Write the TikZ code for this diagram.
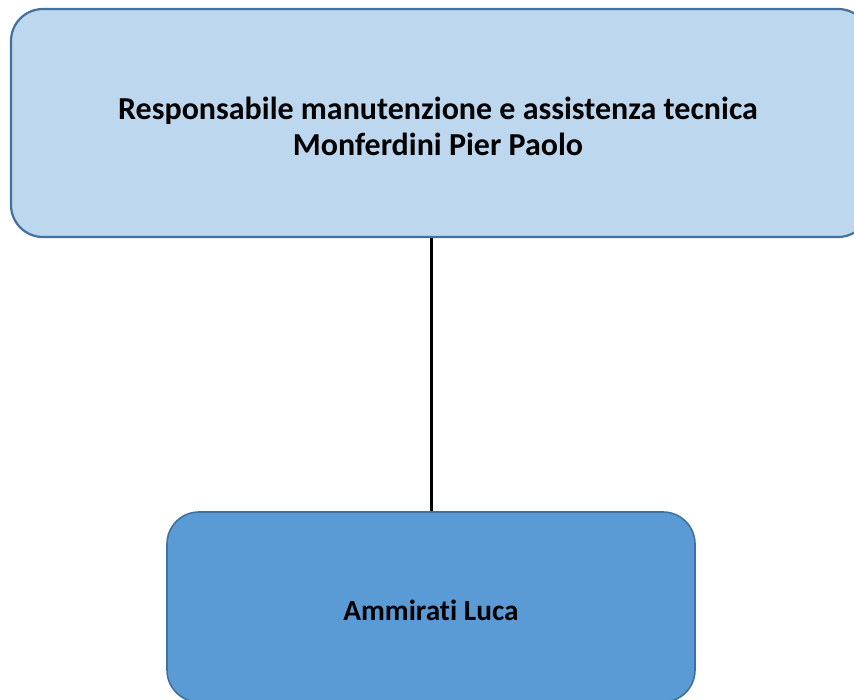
\documentclass[tikz,border=0pt]{standalone}
\usepackage{fontspec}
\setmainfont{Carlito}[Ligatures=NoCommon]
\usepackage{tikz}

\definecolor{lightbox}{HTML}{BDD7EE}
\definecolor{darkbox}{HTML}{5B9BD5}
\definecolor{boxline}{HTML}{41719C}

\begin{document}
\begin{tikzpicture}[
		x=1pt, y=-1pt,
		box/.style={rectangle,rounded corners=32pt,draw=boxline},
		head/.style={box,fill=lightbox,line width=2.2pt,minimum width=859pt,minimum height=228pt},
		member/.style={box,fill=darkbox,line width=1.6pt,minimum width=528pt,minimum height=190pt},
		boxtext/.style={align=center,inner sep=0pt,font=\fontsize{#1}{36}\selectfont\bfseries},
		link/.style={line width=3pt,black}]
		\clip (0,0) rectangle (854,699);
		\useasboundingbox (0,0) rectangle (854,699);
		\node[head] (resp) at (440.5,123) {};
		\node[boxtext=32] (resptext) at (438,126)
			{Responsabile manutenzione e assistenza tecnica\\Monferdini Pier Paolo};
		\node[member] (luca) at (431,607) {};
		\node[boxtext=29.3] (lucatext) at (431,610) {Ammirati Luca};

		\draw[link] (luca.north) -- (luca.north |- resp.south); % vertical connector
\end{tikzpicture}
\end{document}
